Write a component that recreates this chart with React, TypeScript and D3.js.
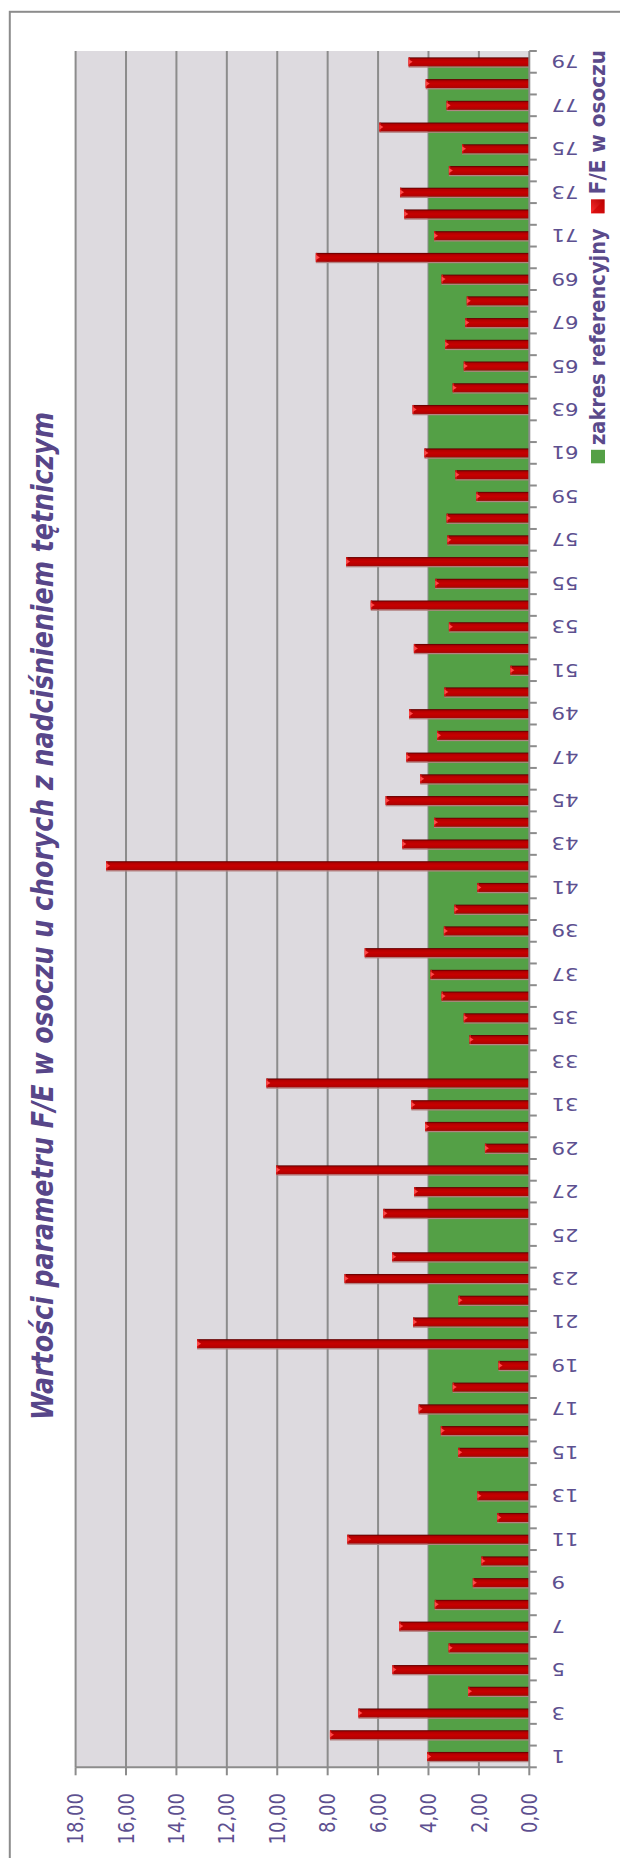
import React from 'react';
import * as d3 from 'd3';

// Patient numbers on the category axis
const categories: string[] = [
  '1', '2', '3', '4', '5', '6', '7', '8', '9', '10',
  '11', '12', '13', '14', '15', '16', '17', '18', '19', '20',
  '21', '22', '23', '24', '25', '26', '27', '28', '29', '30',
  '31', '32', '33', '34', '35', '36', '37', '38', '39', '40',
  '41', '42', '43', '44', '45', '46', '47', '48', '49', '50',
  '51', '52', '53', '54', '55', '56', '57', '58', '59', '60',
  '61', '62', '63', '64', '65', '66', '67', '68', '69', '70',
  '71', '72', '73', '74', '75', '76', '77', '78', '79',
];

// F/E ratio in plasma, one value per patient (null = no measurement)
const feValues: (number | null)[] = [
  4.05, 7.91, 6.78, 2.43, 5.43, 3.2, 5.16, 3.75, 2.24, 1.9,
  7.22, 1.27, 2.06, null, 2.82, 3.51, 4.39, 3.04, 1.22, 13.18,
  4.61, 2.81, 7.33, 5.44, null, 5.79, 4.57, 10.04, 1.76, 4.13,
  4.68, 10.43, null, 2.37, 2.6, 3.48, 3.92, 6.53, 3.39, 2.97,
  2.06, 16.79, 5.04, 3.78, 5.7, 4.33, 4.88, 3.66, 4.77, 3.37,
  0.75, 4.58, 3.19, 6.29, 3.73, 7.27, 3.25, 3.28, 2.1, 2.93,
  4.16, null, 4.63, 3.04, 2.6, 3.34, 2.54, 2.48, 3.48, 8.47,
  3.78, 4.96, 5.13, 3.19, 2.67, 5.95, 3.28, 4.11, 4.79,
];

// Upper bound of the reference range for every patient
const referenceValues: number[] = [
  4, 4, 4, 4, 4, 4, 4, 4, 4, 4,
  4, 4, 4, 4, 4, 4, 4, 4, 4, 4,
  4, 4, 4, 4, 4, 4, 4, 4, 4, 4,
  4, 4, 4, 4, 4, 4, 4, 4, 4, 4,
  4, 4, 4, 4, 4, 4, 4, 4, 4, 4,
  4, 4, 4, 4, 4, 4, 4, 4, 4, 4,
  4, 4, 4, 4, 4, 4, 4, 4, 4, 4,
  4, 4, 4, 4, 4, 4, 4, 4, 4,
];

const valueTicks: number[] = [0, 2, 4, 6, 8, 10, 12, 14, 16, 18];
const valueTickLabels: string[] = ['0,00', '2,00', '4,00', '6,00', '8,00', '10,00', '12,00', '14,00', '16,00', '18,00'];

const title = 'Wartości parametru F/E w osoczu u chorych z nadciśnieniem tętniczym';
const legendLabels: string[] = ['zakres referencyjny', 'F/E w osoczu'];

// The chart is laid out as a regular column chart in a 1858 x 620 frame,
// then turned a quarter turn counter-clockwise onto the 620 x 1858 page.
const FRAME_W = 1858;
const PAGE_W = 620;
const PAGE_H = 1858;
const PLOT = { left: 90.7, right: 1807, top: 75.6, bottom: 529.3 };
const STRETCH = 1.18; // vertical stretch of the lettering
const FONT = '"DejaVu Sans", Verdana, sans-serif';
const TEXT_COLOR = '#5d5090';
const GRID_COLOR = '#8c8c8c';

export default function App() {
  const x = d3.scaleBand<string>().domain(categories).range([PLOT.left, PLOT.right]).padding(0);
  const y = d3.scaleLinear().domain([0, 18]).range([PLOT.bottom, PLOT.top]);
  const center = (c: string) => (x(c) as number) + x.bandwidth() / 2;
  const barW = 9;

  const refArea = d3
    .area<number>()
    .x((_, i) => center(categories[i]))
    .y0(y(0))
    .y1((d) => y(d))(referenceValues) as string;

  const boundaries = categories.map((c) => x(c) as number).concat([PLOT.right]);

  return (
    <svg
      width={PAGE_W}
      height={PAGE_H}
      style={{ position: 'absolute', left: 0, top: 0, display: 'block', background: '#ffffff' }}
    >
      <defs>
        <linearGradient id="barGrad" x1="0" y1="0" x2="1" y2="0">
          <stop offset="0" stopColor="#9c0a0a" />
          <stop offset="0.18" stopColor="#b80000" />
          <stop offset="0.5" stopColor="#c60000" />
          <stop offset="0.8" stopColor="#b30000" />
          <stop offset="1" stopColor="#560000" />
        </linearGradient>
        <linearGradient id="legendRed" x1="0" y1="0" x2="1" y2="1">
          <stop offset="0" stopColor="#ff3030" />
          <stop offset="1" stopColor="#b00000" />
        </linearGradient>
      </defs>
      <g transform={`translate(0,${PAGE_H}) rotate(-90)`}>
        {/* chart area */}
        <rect x={-20} y={9.8} width={FRAME_W - 11.8 + 20} height={700} fill="#ffffff" stroke={GRID_COLOR} strokeWidth={2} />

        {/* title */}
        <g transform={`translate(438,53.4) scale(1,${STRETCH})`}>
          <text
            fontFamily={FONT}
            fontSize={25}
            fontWeight="bold"
            fontStyle="italic"
            fill="#574689"
            textLength={1008}
            lengthAdjust="spacingAndGlyphs"
          >
            {title}
          </text>
        </g>

        {/* plot area */}
        <rect x={PLOT.left} y={PLOT.top} width={PLOT.right - PLOT.left} height={PLOT.bottom - PLOT.top} fill="#dddadf" />

        {/* gridlines */}
        {valueTicks.slice(1).map((v) => (
          <line key={`g${v}`} x1={PLOT.left} x2={PLOT.right} y1={y(v)} y2={y(v)} stroke={GRID_COLOR} strokeWidth={2} />
        ))}

        {/* reference range */}
        <path d={refArea} fill="#54a046" />

        {/* F/E bars */}
        {feValues.map((v, i) => {
          if (v === null) return null;
          const c = center(categories[i]);
          const top = y(v);
          const h = y(0) - top;
          return (
            <g key={`b${i}`}>
              <rect x={c - barW / 2 - 1.3} y={top} width={1.3} height={h} fill="#b48383" />
              <rect x={c - barW / 2} y={top} width={barW} height={h} fill="url(#barGrad)" />
              <rect x={c - barW / 2} y={top} width={barW} height={1.4} fill="#d81818" />
              <polygon
                points={`${c - 2.6},${top} ${c + 2.6},${top} ${c},${top + 4}`}
                fill="#ff4a4a"
              />
            </g>
          );
        })}

        {/* axes */}
        <line x1={PLOT.left} x2={PLOT.right} y1={y(0)} y2={y(0)} stroke={GRID_COLOR} strokeWidth={2} />
        <line x1={PLOT.left} x2={PLOT.left} y1={y(0) + 1} y2={y(18)} stroke={GRID_COLOR} strokeWidth={2} />
        {valueTicks.map((v) => (
          <line key={`vt${v}`} x1={PLOT.left - 8} x2={PLOT.left} y1={y(v)} y2={y(v)} stroke={GRID_COLOR} strokeWidth={2} />
        ))}
        {boundaries.map((b, i) => (
          <line key={`ct${i}`} x1={b} x2={b} y1={y(0)} y2={y(0) + 7.5} stroke={GRID_COLOR} strokeWidth={2} />
        ))}

        {/* value labels */}
        {valueTicks.map((v, i) => (
          <g key={`vl${v}`} transform={`translate(65,${y(v)}) scale(1,${STRETCH})`}>
            <text fontFamily={FONT} fontSize={18} fill={TEXT_COLOR} textAnchor="end" dy="0.36em">
              {valueTickLabels[i]}
            </text>
          </g>
        ))}

        {/* category labels, every other patient */}
        {categories.map((c, i) =>
          i % 2 === 0 ? (
            <g key={`cl${c}`} transform={`translate(${center(c)},551.5) scale(1,${STRETCH})`}>
              <text
                fontFamily={FONT}
                fontSize={18}
                fill={TEXT_COLOR}
                textAnchor="end"
                dy="0.36em"
                transform="rotate(-90)"
              >
                {c}
              </text>
            </g>
          ) : null
        )}

        {/* legend */}
        <rect x={1394.7} y={591} width={13.5} height={14} fill="#54a046" />
        <g transform={`translate(1413,605) scale(1,${STRETCH})`}>
          <text fontFamily={FONT} fontSize={18} fontWeight="bold" fill="#5a4a8b" textLength={216.7} lengthAdjust="spacingAndGlyphs">
            {legendLabels[0]}
          </text>
        </g>
        <rect x={1644.7} y={591} width={14} height={13.5} fill="url(#legendRed)" />
        <polygon points="1644.7,591 1658.7,604.5 1644.7,604.5" fill="#c80000" opacity={0.6} />
        <g transform={`translate(1663.7,605) scale(1,${STRETCH})`}>
          <text fontFamily={FONT} fontSize={18} fontWeight="bold" fill="#5a4a8b" textLength={144.3} lengthAdjust="spacingAndGlyphs">
            {legendLabels[1]}
          </text>
        </g>
      </g>
    </svg>
  );
}
